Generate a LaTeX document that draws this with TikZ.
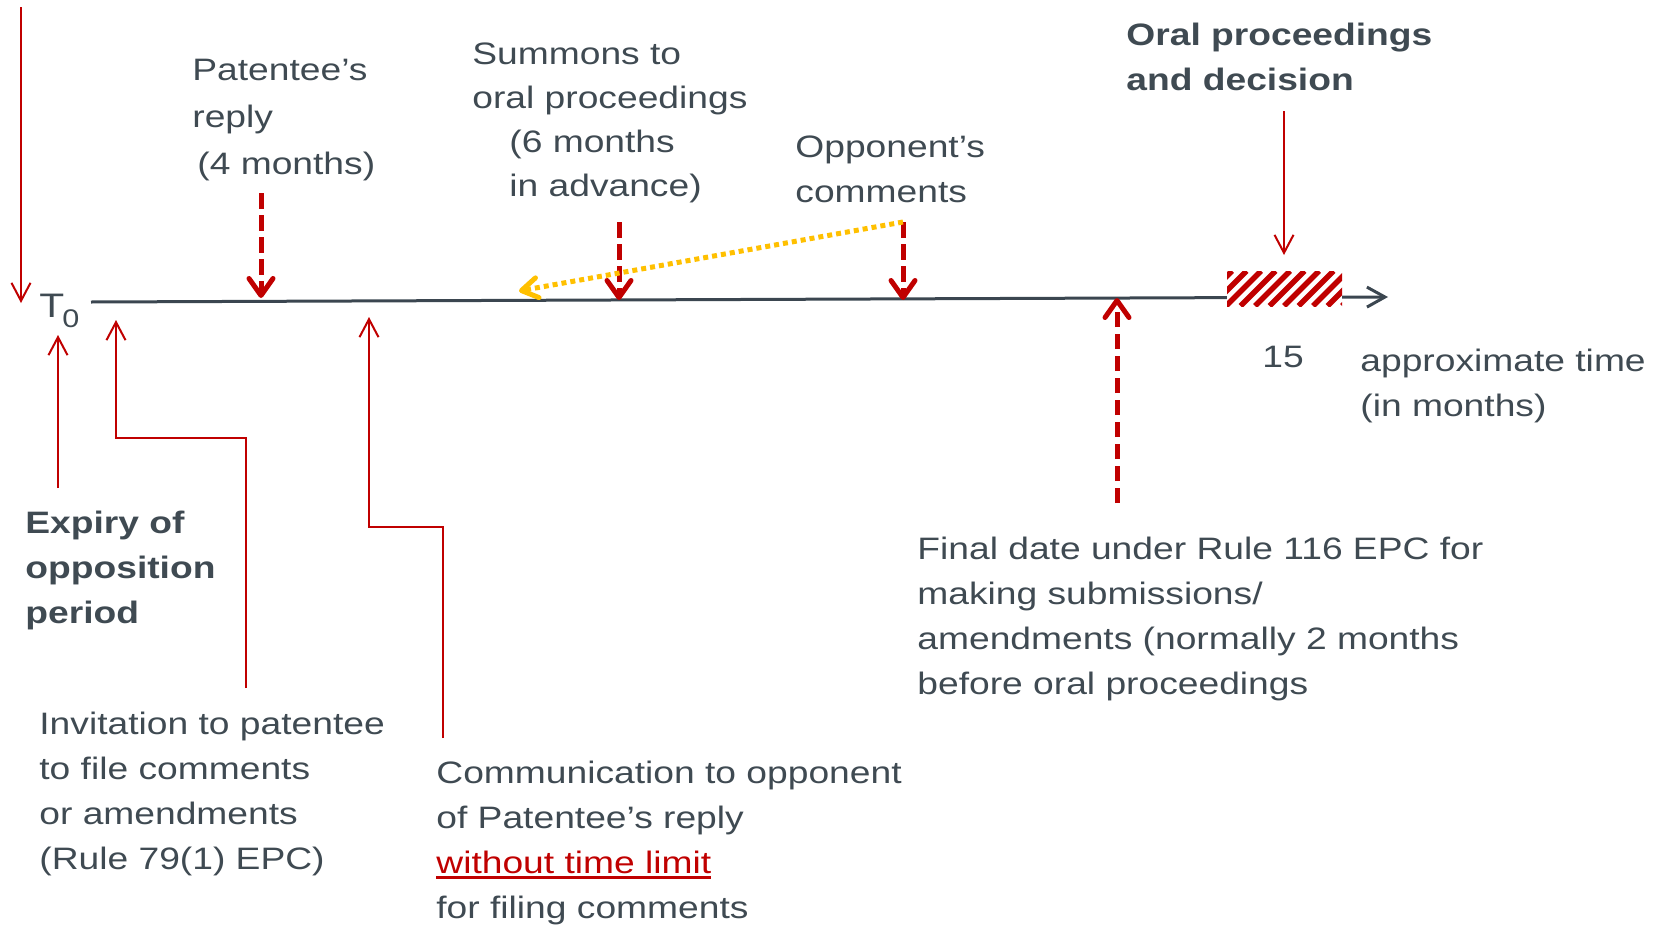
\documentclass[tikz,border=0pt]{standalone}
\usepackage{fontspec}
\setmainfont{Liberation Sans}[FakeStretch=1.2]
\usetikzlibrary{arrows.meta,calc}
\definecolor{ink}{HTML}{3F4A52}
\definecolor{axis}{HTML}{3B4650}
\definecolor{epored}{HTML}{C00000}
\definecolor{amber}{HTML}{FFC000}
% red underlined phrase
\newcommand{\redline}[1]{\setbox0\hbox{#1}\rlap{\rule[-2.75pt]{\wd0}{1.5pt}}\box0}

\begin{document}
\begin{tikzpicture}[x=0.5pt,y=-0.5pt,
  lbl/.style={inner sep=0pt, anchor=north west, align=left, text=ink,
              font={\fontsize{15.5pt}{22.5pt}\selectfont}},
  boldlbl/.style={lbl, font={\fontsize{15.5pt}{22.5pt}\selectfont\bfseries}},
  thinarr/.style={draw=epored, line width=1pt,
              -{Straight Barb[length=9pt,width=9.5pt]}},
  dasharr/.style={draw=epored, line width=2.5pt, dash pattern=on 7.75pt off 3.25pt,
              -{Straight Barb[length=8.5pt,width=12pt,line cap=round,line join=round]}},
  dotarr/.style={draw=amber, line width=2.5pt, dash pattern=on 2.5pt off 2pt,
              -{Straight Barb[length=8pt,width=10pt,line cap=round,line join=round]}},
  axisline/.style={draw=axis, line width=1.5pt,
              -{Straight Barb[length=9pt,width=10pt]}}
]
\useasboundingbox (0,0) rectangle (1664,926);

% ---- time axis ----
\coordinate (tlstart) at (91,302);
\coordinate (tlend) at (1388,297);
\draw[axisline] (tlstart) -- (tlend);

% hatched block: oral proceedings
\begin{scope}
  \clip (1227,271) rectangle (1342,306);
  \fill[white] (1227,271) rectangle (1342,306);
  \foreach \k in {-1,...,10}
    \draw[epored, line width=2.7pt] (1197+\k*14.5,306) -- ++(35,-35);
\end{scope}

% ---- labels ----
\node[anchor=base west, inner sep=0pt, text=ink, font={\fontsize{17pt}{17pt}\selectfont}] (t0) at (39,317) {T};
\node[anchor=base west, inner sep=0pt, text=ink, font={\fontsize{12.75pt}{12.75pt}\selectfont}] (t0sub) at (62,327) {0};

\node[lbl, font={\fontsize{15.5pt}{23.5pt}\selectfont}] (patentee) at (192,59)
  {Patentee’s\\reply\\\hspace*{2.5pt}(4 months)};
\node[lbl, font={\fontsize{15.5pt}{22pt}\selectfont}] (summons) at (472,42)
  {Summons to\\oral proceedings\\\hspace*{18.5pt}(6 months\\\hspace*{18.5pt}in advance)};
\node[lbl] (opponent) at (795,135) {Opponent’s\\comments};
\node[boldlbl] (oral) at (1126,23) {Oral proceedings\\and decision};
\node[anchor=base, inner sep=0pt, text=ink, font={\fontsize{15.5pt}{22.5pt}\selectfont}] (fifteen) at (1283,367) {15};
\node[lbl] (approx) at (1360,349) {approximate time\\(in months)};
\node[boldlbl] (expiry) at (25,511) {Expiry of\\opposition\\period};
\node[lbl] (invitation) at (39,712)
  {Invitation to patentee\\to file comments\\or amendments\\(Rule 79(1) EPC)};
\node[lbl] (communication) at (436,761)
  {Communication to opponent\\of Patentee’s reply\\\textcolor{epored}{\redline{without time limit}}\\for filing comments};
\node[lbl] (finaldate) at (917,537)
  {Final date under Rule 116 EPC for\\making submissions/\\amendments (normally 2 months\\before oral proceedings};

% ---- end points of the connectors ----
\coordinate (topleft) at (21,7);
\coordinate (tzero) at (21,303);
\coordinate (expfoot) at (58,488);
\coordinate (exptip) at (58,335);
\coordinate (invfoot) at (246,688);
\coordinate (invtip) at (116,320);
\coordinate (comfoot) at (443,738);
\coordinate (comtip) at (369,317);
\coordinate (oraltop) at (1284,111);
\coordinate (oraltip) at (1284,255);
\coordinate (pattop) at (261,193);
\coordinate (pattip) at (261,298);
\coordinate (sumtop) at (619,222);
\coordinate (sumtip) at (619,300);
\coordinate (opptop) at (903,222);
\coordinate (opptip) at (903,300);
\coordinate (finfoot) at (1117,503);
\coordinate (fintip) at (1117,298);
\coordinate (yeltip) at (519,291);

% ---- thin red connectors ----
\draw[thinarr] (topleft) -- (tzero);
\draw[thinarr] (expfoot) -- (exptip);
\draw[thinarr] (invfoot) -- (246,438) -- (116,438) -- (invtip);
\draw[thinarr] (comfoot) -- (443,527) -- (369,527) -- (comtip);
\draw[thinarr] (oraltop) -- (oraltip);

% ---- dashed red markers ----
\draw[dasharr] (pattop) -- (pattip);
\draw[dasharr] (sumtop) -- (sumtip);
\draw[dasharr] (opptop) -- (opptip);
\draw[dasharr] (finfoot) -- (fintip);

% ---- dotted link from opponent's comments ----
\draw[dotarr] (opptop) -- (yeltip);
\end{tikzpicture}
\end{document}
